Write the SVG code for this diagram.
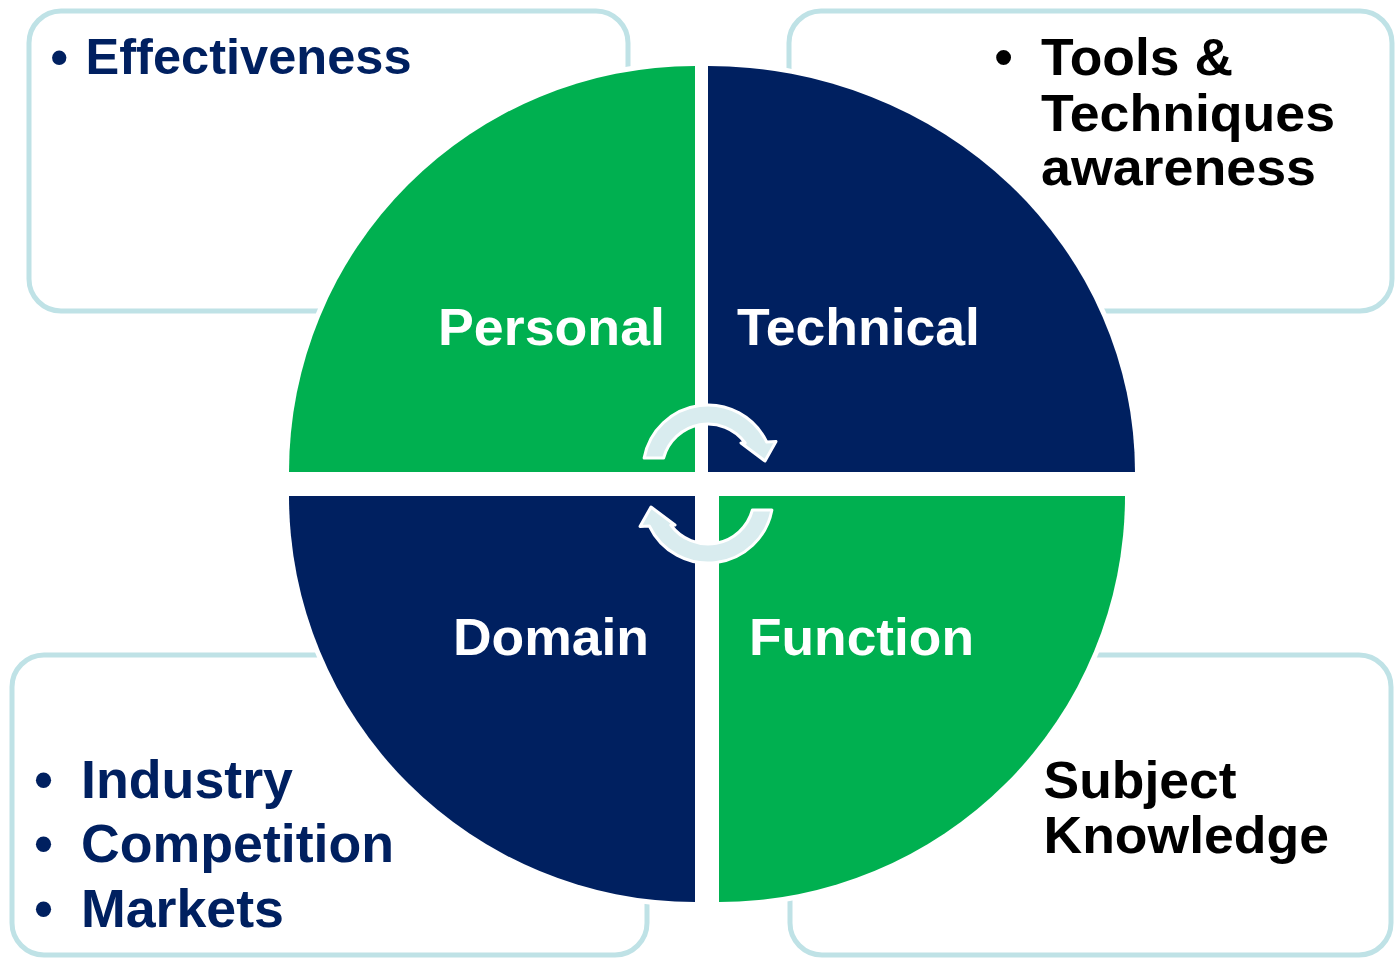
<svg xmlns="http://www.w3.org/2000/svg" width="1396" height="959" viewBox="0 0 1396 959">
  <style>
    .box { fill: #ffffff; stroke: #bfe2e6; stroke-width: 5; }
    .quad { stroke: #ffffff; stroke-width: 10; paint-order: stroke; stroke-linejoin: miter; }
    .green { fill: #00b050; }
    .navy { fill: #002060; }
    .txt { font-family: "Liberation Sans", Arial, Helvetica, sans-serif; font-weight: bold; }
    .label { fill: #ffffff; font-size: 52px; }
    .blue { fill: #002060; }
    .black { fill: #000000; }
    .cycle { fill: #d9ecef; stroke: #ffffff; stroke-width: 3; stroke-linejoin: round; }
  </style>
  <defs>
    <path id="cycle-arrow" d="M 644.1 458 A 65 65 0 0 1 766.7 442 L 776 441.5 L 765 461 L 741 443 L 745.2 443 A 46 46 0 0 0 663.6 458 Z"/>
  </defs>

  <rect width="1396" height="959" fill="#ffffff"/>

  <!-- corner boxes with their descriptions -->
  <g id="box-personal-detail">
    <rect class="box" x="29" y="11" width="599" height="300" rx="32"/>
    <text class="txt blue" font-size="50" x="50.5" y="73.5">•</text>
    <text class="txt blue" font-size="50" x="85.5" y="73.5" textLength="326" lengthAdjust="spacingAndGlyphs">Effectiveness</text>
  </g>
  <g id="box-technical-detail">
    <rect class="box" x="789" y="11" width="603" height="300" rx="32"/>
    <text class="txt black" font-size="52" x="994.5" y="75">•</text>
    <text class="txt black" font-size="52" x="1041" y="75" textLength="192" lengthAdjust="spacingAndGlyphs">Tools &amp;</text>
    <text class="txt black" font-size="52" x="1041" y="130.5" textLength="294" lengthAdjust="spacingAndGlyphs">Techniques</text>
    <text class="txt black" font-size="52" x="1041" y="185" textLength="275" lengthAdjust="spacingAndGlyphs">awareness</text>
  </g>
  <g id="box-domain-detail">
    <rect class="box" x="12" y="655" width="635" height="300" rx="32"/>
    <text class="txt blue" font-size="53">
      <tspan x="34.3" y="798">•</tspan>
      <tspan x="34.3" y="862">•</tspan>
      <tspan x="34.3" y="927">•</tspan>
    </text>
    <text class="txt blue" font-size="53" x="81" y="798" textLength="212" lengthAdjust="spacingAndGlyphs">Industry</text>
    <text class="txt blue" font-size="53" x="81" y="862" textLength="313" lengthAdjust="spacingAndGlyphs">Competition</text>
    <text class="txt blue" font-size="53" x="81" y="927" textLength="203" lengthAdjust="spacingAndGlyphs">Markets</text>
  </g>
  <g id="box-function-detail">
    <rect class="box" x="790" y="655" width="601" height="300" rx="32"/>
    <text class="txt black" font-size="52" x="1043.5" y="798" textLength="193" lengthAdjust="spacingAndGlyphs">Subject</text>
    <text class="txt black" font-size="52" x="1043.5" y="853" textLength="285.5" lengthAdjust="spacingAndGlyphs">Knowledge</text>
  </g>

  <!-- four quadrants of the cycle matrix -->
  <g id="quad-personal">
    <path class="quad green" d="M 695 472 L 289 472 A 406 406 0 0 1 695 66 Z"/>
    <text class="txt label" x="438" y="345" textLength="227" lengthAdjust="spacingAndGlyphs">Personal</text>
  </g>
  <g id="quad-technical">
    <path class="quad navy" d="M 708 472 L 708 66 A 427 406 0 0 1 1135 472 Z"/>
    <text class="txt label" x="737" y="345" textLength="243" lengthAdjust="spacingAndGlyphs">Technical</text>
  </g>
  <g id="quad-domain">
    <path class="quad navy" d="M 695 496 L 695 902 A 406 406 0 0 1 289 496 Z"/>
    <text class="txt label" x="453" y="655" textLength="196" lengthAdjust="spacingAndGlyphs">Domain</text>
  </g>
  <g id="quad-function">
    <path class="quad green" d="M 719 496 L 1125 496 A 406 406 0 0 1 719 902 Z"/>
    <text class="txt label" x="749" y="655" textLength="225" lengthAdjust="spacingAndGlyphs">Function</text>
  </g>

  <!-- circular arrows in the centre -->
  <g id="connectors">
    <use href="#cycle-arrow" class="cycle"/>
    <use href="#cycle-arrow" class="cycle" transform="rotate(180 708 484)"/>
  </g>
</svg>
